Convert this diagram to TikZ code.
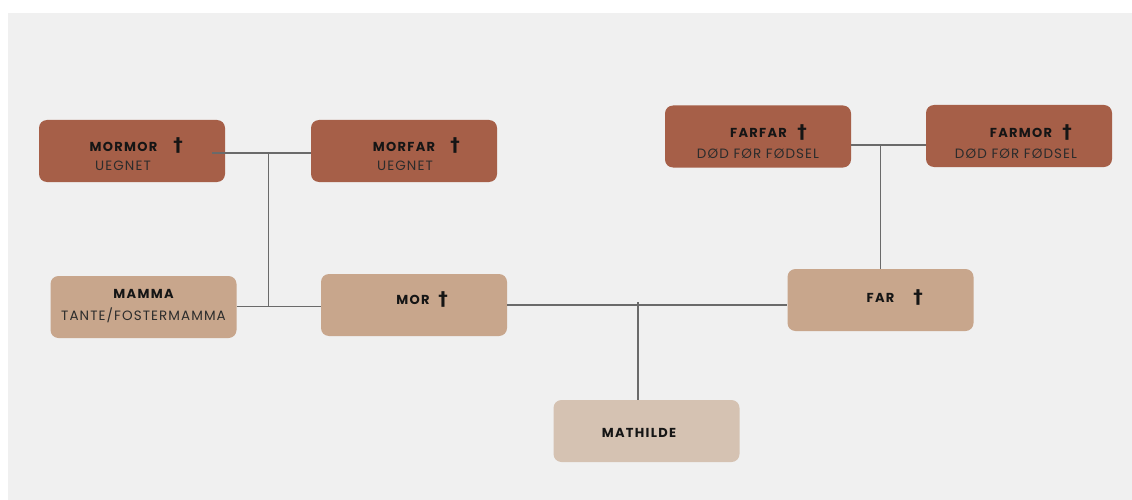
\documentclass[tikz,border=0pt]{standalone}
\usepackage{fontspec}
\setmainfont{Poppins}
\newfontfamily\namefont{Poppins}[LetterSpace=10]
\newfontfamily\subfont{Poppins}[LetterSpace=8]
\newfontfamily\crossfont{DejaVu Sans}
\definecolor{bgcol}{HTML}{F0F0F0}
\definecolor{rust}{HTML}{A65F48}
\definecolor{tan}{HTML}{C8A68C}
\definecolor{sand}{HTML}{D5C2B2}
\definecolor{ink}{HTML}{151515}
\definecolor{linecol}{HTML}{6A6A6A}
\tikzset{
  box/.style={rounded corners=8pt,minimum width=186pt,minimum height=62pt,inner sep=0pt},
  elder/.style={box,fill=rust},
  parent/.style={box,fill=tan},
  child/.style={box,fill=sand},
  title/.style={anchor=base,inner sep=0pt,text=ink,font=\namefont\bfseries\fontsize{13}{15}\selectfont},
  sub/.style={anchor=base,inner sep=0pt,text=ink!90,font=\subfont\fontsize{13.5}{15}\selectfont},
  cross/.style={anchor=base,inner sep=0pt,text=ink,font=\crossfont\bfseries\fontsize{19}{20}\selectfont},
  link/.style={draw=linecol,line width=1.1pt}
}
\begin{document}
\begin{tikzpicture}[x=1pt,y=-1pt]
    \useasboundingbox (0,0) rectangle (1132,500);
    \fill[bgcol] (8,13) rectangle (1132,500);
    % grandparents
    \node[elder] (mormor) at (132,151) {};
    \node[elder] (morfar) at (404,151) {};
    \node[elder] (farfar) at (758,136.5) {};
    \node[elder] (farmor) at (1019,136) {};
    % parents
    \node[parent] (mamma) at (143.5,307) {};
    \node[parent] (mor) at (414,305) {};
    \node[parent] (far) at (880.5,300) {};
    \node[child] (mathilde) at (646.5,431) {};
    % connectors
    \coordinate (mm) at (268.5,153);
    \coordinate (mmb) at (268.5,306.5);
    \coordinate (kid) at (638,305);
    \draw[link] ([xshift=-13pt]mormor.east |- mm) -- (mm) -- (mm -| morfar.west);
    \draw[link] (mm) -- (mmb);
    \draw[link] (mamma.east |- mmb) -- (mor.west |- mmb);
    \draw[link] (farfar.east |- 0,145) -- (farmor.west |- 0,145);
    \draw[link] (far.north) -- (far.north |- 0,145);
    \draw[link] (mor.east |- kid) -- (far.west |- kid);
    \draw[link] ([yshift=3pt]kid) -- (kid |- mathilde.north);
    % texts
    \node[title] (mormor-t) at (123.5,151) {MORMOR};
    \node[cross] (mormor-c) at (178,152) {†};
    \node[sub] (mormor-s) at (123,171) {UEGNET};
    \node[title] (morfar-t) at (404,151) {MORFAR};
    \node[cross] (morfar-c) at (455,152) {†};
    \node[sub] (morfar-s) at (405,171) {UEGNET};
    \node[title] (farfar-t) at (758.5,138) {FARFAR};
    \node[cross] (farfar-c) at (802,139) {†};
    \node[sub] (farfar-s) at (758,158) {DØD FØR FØDSEL};
    \node[title] (farmor-t) at (1021,138) {FARMOR};
    \node[cross] (farmor-c) at (1067,139) {†};
    \node[sub] (farmor-s) at (1016,158) {DØD FØR FØDSEL};
    \node[title] (mamma-t) at (143.5,298) {MAMMA};
    \node[sub] (mamma-s) at (143.5,320) {TANTE/FOSTERMAMMA};
    \node[title] (mor-t) at (413,304) {MOR};
    \node[cross] (mor-c) at (443,305) {†};
    \node[title] (far-t) at (880.5,302) {FAR};
    \node[cross] (far-c) at (918,303) {†};
    \node[title] (mathilde-t) at (639,437) {MATHILDE};
\end{tikzpicture}
\end{document}
